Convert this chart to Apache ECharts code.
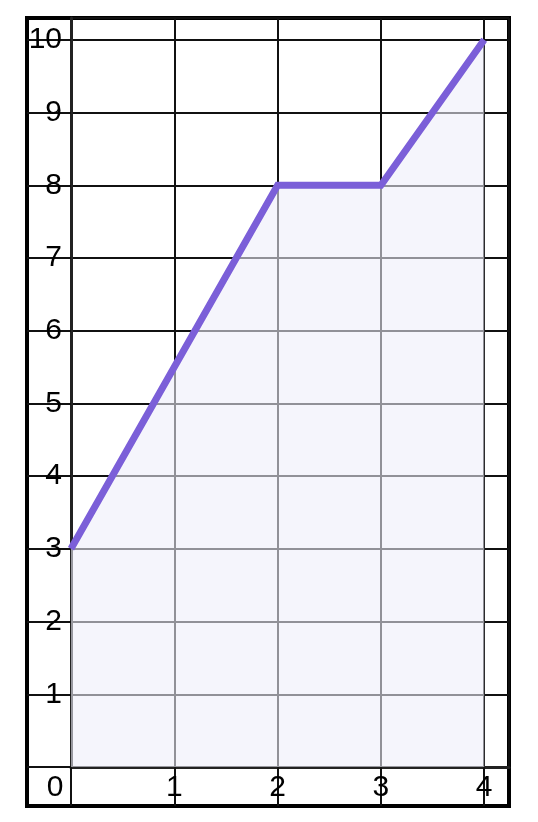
<!DOCTYPE html>
<html>
<head>
<meta charset="utf-8">
<script src="https://cdn.jsdelivr.net/npm/echarts@6/dist/echarts.min.js"></script>
<style>
html,body{margin:0;padding:0;background:#fff;}
#chart{width:538px;height:822px;}
</style>
</head>
<body>
<div id="chart"></div>
<script>
// Data
const xValues = [0, 2, 3, 4];
const yValues = [3, 8, 8, 10];
const xMax = 4.24;
const yMax = 10.3;

const chart = echarts.init(document.getElementById('chart'), null, {renderer: 'canvas'});
const font = '"Liberation Sans", Arial, sans-serif';
const gridLine = {color: '#111', width: 2};
chart.setOption({
  animation: false,
  grid: [
    {left: 71, right: 29, top: 18, bottom: 55, show: false, outerBoundsMode: 'none', containLabel: false},
    {left: 27, right: 29, top: 18, bottom: 16, show: true, borderColor: '#000', borderWidth: 4,
     backgroundColor: 'transparent', outerBoundsMode: 'none', containLabel: false}
  ],
  xAxis: [{
    type: 'value', min: 0, max: xMax, interval: 1, gridIndex: 0,
    axisLine: {show: true, onZero: false, lineStyle: {color: '#222', width: 3}},
    axisTick: {show: true, inside: false, length: 39, lineStyle: gridLine},
    splitLine: {show: true, lineStyle: gridLine},
    axisLabel: {
      showMaxLabel: false,
      color: '#000', fontSize: 30, fontFamily: font, margin: 6,
      formatter: function (v) { return v === 0 ? '{z|0}' : String(v); },
      rich: {z: {fontSize: 30, fontFamily: font, color: '#000', padding: [0, 32, 0, 0]}}
    }
  }, {
    type: 'value', gridIndex: 1, show: false
  }],
  yAxis: [{
    type: 'value', min: 0, max: yMax, interval: 1, gridIndex: 0,
    axisLine: {show: true, onZero: false, lineStyle: {color: '#222', width: 3}},
    axisTick: {show: true, inside: false, length: 44, lineStyle: gridLine},
    splitLine: {show: true, lineStyle: gridLine},
    axisLabel: {
      showMaxLabel: false,
      color: '#000', fontSize: 30, fontFamily: font, margin: 9,
      formatter: function (v) { return v === 0 ? '' : String(v); }
    }
  }, {
    type: 'value', gridIndex: 1, show: false
  }],
  series: [{
    type: 'line',
    xAxisIndex: 0, yAxisIndex: 0,
    data: xValues.map((x, i) => [x, yValues[i]]),
    showSymbol: false,
    symbol: 'none',
    lineStyle: {color: '#7b5fd8', width: 7, cap: 'butt', join: 'miter'},
    areaStyle: {color: 'rgb(238,237,250)', opacity: 0.58}
  }]
});
</script>
</body>
</html>
